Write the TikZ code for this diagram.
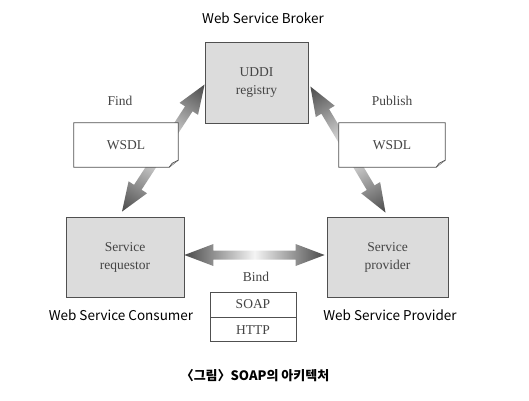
\documentclass[tikz,border=0pt]{standalone}
\usepackage{fontspec}
\setmainfont{Liberation Serif}
\newfontfamily\krfont{Noto Sans CJK KR}
\usetikzlibrary{calc}
\definecolor{boxfill}{HTML}{DCDCDC}
\definecolor{boxline}{HTML}{505050}
\definecolor{boxtext}{HTML}{444444}
\definecolor{arrowdark}{HTML}{4A4A4A}
\definecolor{arrowlight}{HTML}{F4F4F4}
\newcommand\fatarrow[2]{%
  \path (#1); \pgfgetlastxy{\fax}{\fay}%
  \path (#2); \pgfgetlastxy{\fbx}{\fby}%
  \pgfmathsetmacro\falen{veclen(\fbx-\fax,\fby-\fay)}%
  \pgfmathsetmacro\faang{atan2(\fby-\fay,\fbx-\fax)}%
  \pgfmathsetmacro\fam{\falen-29}%
  \shade[left color=arrowdark, right color=arrowdark, middle color=arrowlight,
         transform canvas={shift={(\fax,\fay)}, rotate=\faang}]
    (0pt,0pt) -- (29pt,11pt) -- (29pt,4.5pt) -- (\fam pt,4.5pt) -- (\fam pt,11pt)
    -- (\falen pt,0pt) -- (\fam pt,-11pt) -- (\fam pt,-4.5pt) -- (29pt,-4.5pt)
    -- (29pt,-11pt) -- cycle;
}
\begin{document}
\begin{tikzpicture}[x=1pt,y=-1pt,
  gbox/.style={draw=boxline, fill=boxfill, line width=0.8pt, inner sep=0pt,
    text=boxtext, align=center, font=\fontsize{13.5}{18}\selectfont},
  doc/.style={inner sep=0pt, text=boxtext, font=\fontsize{13.5}{18}\selectfont},
  docline/.style={draw=boxline, line width=0.7pt},
  wbox/.style={draw=boxline, fill=white, line width=0.8pt, inner sep=0pt,
    text=boxtext, font=\fontsize{13.5}{18}\selectfont},
  lbl/.style={inner sep=0pt, text=black, font=\krfont\fontsize{13.5}{16}\selectfont},
  slbl/.style={inner sep=0pt, text=boxtext, font=\fontsize{13.5}{16}\selectfont}]
\useasboundingbox (0,0) rectangle (529,400);
\fill[white] (0,0) rectangle (529,400);

% main boxes
\node[gbox, minimum width=103pt, minimum height=81pt] (uddi) at (256.5,82.5) {UDDI\\registry};
\node[gbox, minimum width=118pt, minimum height=80pt] (req) at (125,257) {Service\\requestor};
\node[gbox, minimum width=121pt, minimum height=80pt] (prov) at (387.5,257) {Service\\provider};

% arrows
\coordinate (fa) at ($(req.north)+(-3,-5)$);
\coordinate (fb) at ($(uddi.west)+(0,2)$);
\coordinate (pa) at ($(uddi.east)+(2,4)$);
\coordinate (pb) at ($(prov.north)+(-2,-4)$);
\coordinate (ba) at ($(req.east)+(0,-2)$);
\coordinate (bb) at ($(prov.west)+(-2,-2)$);
\fatarrow{fa}{fb}
\fatarrow{pa}{pb}
\fatarrow{ba}{bb}

% WSDL documents
\node[doc, minimum width=104pt, minimum height=44pt] (w1) at (126,145) {};
\draw[docline, fill=white] (w1.north west) -- (w1.north east) -- ($(w1.south east)+(0,-7)$)
  -- ($(w1.south east)+(-9,0)$) -- (w1.south west) -- cycle;
\draw[docline, fill=gray!45] ($(w1.south east)+(0,-7)$) -- ($(w1.south east)+(-6,-4)$) -- ($(w1.south east)+(-9,0)$);
\node[doc] at (w1.center) {WSDL};

\node[doc, minimum width=106pt, minimum height=44pt] (w2) at (392,145) {};
\draw[docline, fill=white] (w2.north west) -- (w2.north east) -- ($(w2.south east)+(0,-7)$)
  -- ($(w2.south east)+(-9,0)$) -- (w2.south west) -- cycle;
\draw[docline, fill=gray!45] ($(w2.south east)+(0,-7)$) -- ($(w2.south east)+(-6,-4)$) -- ($(w2.south east)+(-9,0)$);
\node[doc] at (w2.center) {WSDL};

% SOAP / HTTP
\node[wbox, minimum width=86pt, minimum height=25pt] (soap) at (253,304.5) {SOAP};
\node[wbox, minimum width=86pt, minimum height=24pt, anchor=north] (http) at (soap.south) {HTTP};

% labels
\node[slbl] (find) at (120,101) {Find};
\node[slbl] (pub) at (392,101) {Publish};
\node[slbl] (bind) at (256,277) {Bind};
\node[lbl] (broker) at (263,18) {Web Service Broker};
\node[lbl] (cons) at (121,315) {Web Service Consumer};
\node[lbl] (provl) at (390,315) {Web Service Provider};
\node[lbl, font=\krfont\bfseries\fontsize{13}{16}\selectfont] (cap) at (257,376) {\kern-0.3em〈그림〉SOAP의 아키텍처};
\end{tikzpicture}
\end{document}
